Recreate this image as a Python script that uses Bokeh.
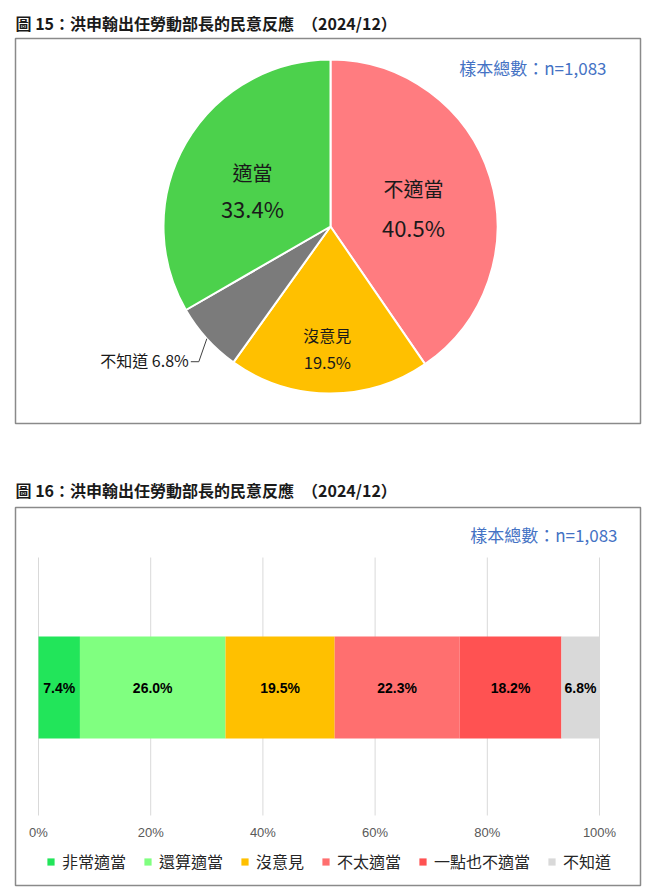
import math
from bokeh.plotting import figure
from bokeh.models import ColumnDataSource, Range1d
from bokeh.layouts import column
from bokeh.embed import file_html
from bokeh.resources import INLINE
from bokeh.core.properties import value

# ---------------- data ----------------
title_15 = "圖 15：洪申翰出任勞動部長的民意反應　（2024/12）"
title_16 = "圖 16：洪申翰出任勞動部長的民意反應　（2024/12）"
sample_note = "樣本總數：n=1,083"

pie_labels = ["不適當", "沒意見", "不知道", "適當"]
pie_values = [40.5, 19.5, 6.8, 33.4]
pie_colors = ["#FF7C80", "#FFC000", "#7B7B7B", "#4CD14C"]

bar_labels = ["非常適當", "還算適當", "沒意見", "不太適當", "一點也不適當", "不知道"]
bar_values = [7.4, 26.0, 19.5, 22.3, 18.2, 6.8]
bar_colors = ["#22E55A", "#80FF80", "#FFC000", "#FF6F6F", "#FF5252", "#D9D9D9"]

x_ticks = [0, 20, 40, 60, 80, 100]
x_tick_labels = ["0%", "20%", "40%", "60%", "80%", "100%"]

# ---------------- styles ----------------
CJK = "Noto Sans CJK TC"
LAT = "Liberation Sans"
BOX_COLOR = "#8A8A8A"
NOTE_COLOR = "#4472C4"
LEFT, FRAME_W, WIDTH = 15, 625, 656


def base_figure(height, top, bottom, xr, yr, title):
    p = figure(width=WIDTH, height=height, min_border_left=LEFT,
               min_border_right=WIDTH - LEFT - FRAME_W,
               min_border_top=top, min_border_bottom=bottom,
               x_range=xr, y_range=yr, x_axis_location=None, y_axis_location=None,
               toolbar_location=None, tools="", output_backend="svg", title=title)
    p.grid.grid_line_color = None
    p.outline_line_color = BOX_COLOR
    p.outline_line_width = 1.5
    p.background_fill_color = "white"
    p.border_fill_color = "white"
    p.title.text_font = CJK
    p.title.text_font_size = "16px"
    p.title.text_font_style = "bold"
    p.title.text_color = "#1A1A1A"
    p.title.align = "left"
    return p


# ================= figure 15 : pie =================
FRAME1_H = 385
p1 = base_figure(38 + FRAME1_H + 20, 38, 20, Range1d(0, FRAME_W), Range1d(0, FRAME1_H), title_15)
p1.title.standoff = 7

CX, CY, R = 315, 197, 167
total = sum(pie_values)
starts, ends, mids = [], [], []
cum = 0.0
for v in pie_values:
    a0 = cum / total * 2 * math.pi
    cum += v
    a1 = cum / total * 2 * math.pi
    starts.append(math.pi / 2 - a1)
    ends.append(math.pi / 2 - a0)
    mids.append((a0 + a1) / 2)

p1.wedge(x=CX, y=CY, radius=R, start_angle=starts, end_angle=ends,
         fill_color=pie_colors, line_color="white", line_width=2)

# inside labels (name + percentage)
r_factor = [0.52, 0.73, None, 0.54]
nudge = [(0, -7), (-2, 0), None, (0, -9)]
name_dy = [19, 13.5, None, 18]
name_size = ["20px", "16px", None, "20px"]
pct_size = ["22px", "16.5px", None, "22px"]
for i, lab in enumerate(pie_labels):
    if r_factor[i] is None:
        continue
    ax = CX + r_factor[i] * R * math.sin(mids[i]) + nudge[i][0]
    ay = CY + r_factor[i] * R * math.cos(mids[i]) + nudge[i][1]
    p1.text(x=[ax], y=[ay + name_dy[i]], text=[lab], text_align="center",
            text_baseline="middle", text_font=value(CJK), text_font_size=name_size[i],
            text_color="#1A1A1A")
    p1.text(x=[ax], y=[ay - name_dy[i]], text=[f"{pie_values[i]:.1f}%"], text_align="center",
            text_baseline="middle", text_font=value(CJK), text_font_size=pct_size[i],
            text_color="#1A1A1A")

# outside label with leader line for the small slice
gi = 2
ex = CX + R * math.sin(mids[gi])
ey = CY + R * math.cos(mids[gi])
lx = [ex, ex - 8, ex - 16]
ly = [ey, ey - 23, ey - 23]
p1.line(x=lx, y=ly, line_color="#404040", line_width=1)
p1.text(x=[lx[-1] - 2], y=[ly[-1] + 2], text=[f"{pie_labels[gi]} {pie_values[gi]:.1f}%"],
        text_align="right", text_baseline="middle", text_font=value(CJK),
        text_font_size="16px", text_color="#1A1A1A")

p1.text(x=[606 - LEFT], y=[423 - 67], text=[sample_note], text_align="right",
        text_baseline="middle", text_font=value(CJK), text_font_size="17px",
        text_color=NOTE_COLOR)

# ================= figure 16 : 100% stacked bar =================
PX_PER_PCT = 5.61
X0 = -(38 - LEFT) / PX_PER_PCT
X1 = X0 + FRAME_W / PX_PER_PCT
FRAME2_TOP, FRAME2_BOTTOM = 507, 885
FRAME2_H = FRAME2_BOTTOM - FRAME2_TOP
fig1_h = 38 + FRAME1_H + 20
p2 = base_figure(FRAME2_BOTTOM + 2 - fig1_h, FRAME2_TOP - fig1_h, 2,
                 Range1d(X0, X1), Range1d(0, FRAME2_H), title_16)
p2.title.standoff = 12


def ypx(py):
    return FRAME2_BOTTOM - py


GRID_TOP, GRID_BOTTOM = ypx(557), ypx(815)
BAR_Y, BAR_H = ypx(687), 102
TICK_Y = ypx(832)

p2.segment(x0=x_ticks, y0=GRID_BOTTOM, x1=x_ticks, y1=GRID_TOP,
           line_color="#D9D9D9", line_width=1)

btotal = sum(bar_values)
lefts, rights = [], []
c = 0.0
for v in bar_values:
    lefts.append(c / btotal * 100)
    c += v
    rights.append(c / btotal * 100)
centers = [(a + b) / 2 for a, b in zip(lefts, rights)]

src = ColumnDataSource(dict(cat=bar_labels, left=lefts, right=rights, color=bar_colors,
                            y=[BAR_Y] * len(bar_labels)))
p2.hbar(y="y", height=BAR_H, left="left", right="right", fill_color="color",
        line_color=None, source=src, legend_field="cat")

p2.text(x=centers, y=[BAR_Y] * len(centers), text=[f"{v:.1f}%" for v in bar_values],
        text_align="center", text_baseline="middle", text_font=value(LAT),
        text_font_size="14px", text_font_style="bold", text_color="#000000")

p2.text(x=x_ticks, y=[TICK_Y] * len(x_ticks), text=x_tick_labels, text_align="center",
        text_baseline="middle", text_font=value(LAT), text_font_size="13px",
        text_color="#595959")

p2.text(x=[(617 - 38) / PX_PER_PCT], y=[ypx(534)], text=[sample_note],
        text_align="right", text_baseline="middle", text_font=value(CJK),
        text_font_size="17px", text_color=NOTE_COLOR)

lg = p2.legend[0]
lg.orientation = "horizontal"
lg.location = (46 - LEFT, ypx(862) - 11)
lg.glyph_width = 9
lg.glyph_height = 9
lg.label_standoff = 7
lg.spacing = 17
lg.padding = 0
lg.margin = 0
lg.label_height = 20
lg.label_text_font = CJK
lg.label_text_font_size = "16px"
lg.label_text_color = "#262626"
lg.background_fill_alpha = 0
lg.border_line_alpha = 0

layout = column(p1, p2, spacing=0)
open("out.html", "w").write(file_html(layout, INLINE))
